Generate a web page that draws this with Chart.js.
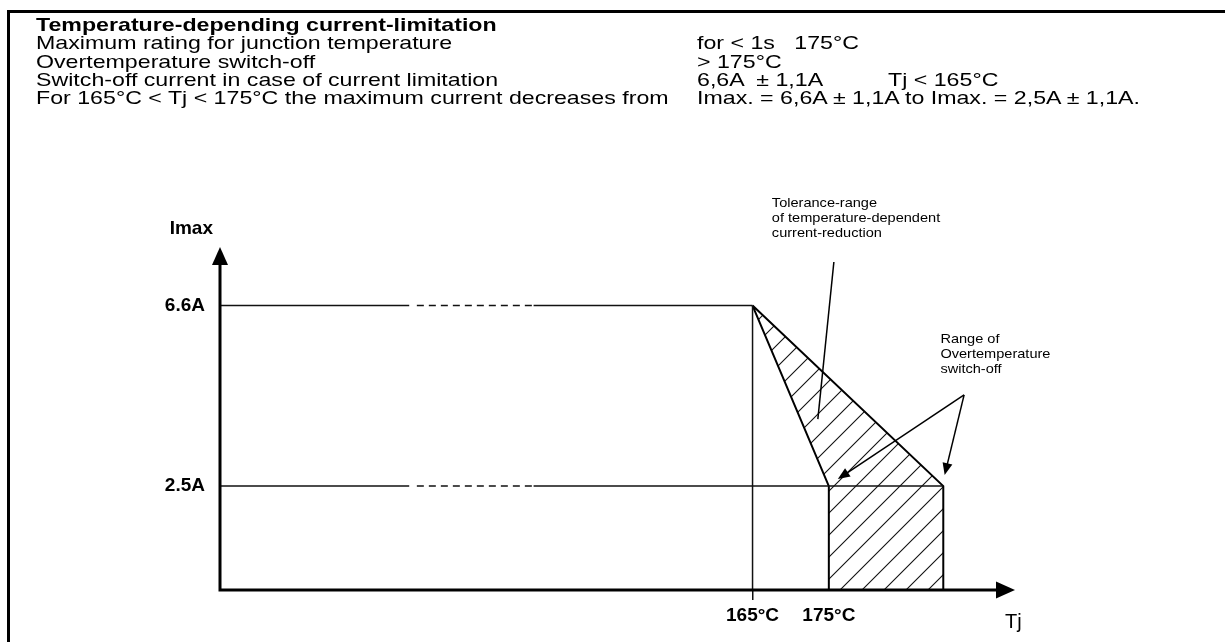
<!DOCTYPE html>
<html>
<head>
<meta charset="utf-8">
<script src="https://cdn.jsdelivr.net/npm/chart.js@4.4.1/dist/chart.umd.min.js"></script>
<style>
  html, body { margin: 0; padding: 0; background: #fff; }
  #page { position: relative; width: 1225px; height: 642px; overflow: hidden; }
  #frame { position: absolute; left: 7px; top: 10px; right: 0; bottom: 0; border-top: 3px solid #000; border-left: 3px solid #000; }
  #chart { position: absolute; left: 0; top: 0; }
  .col { position: absolute; font: 19px "Liberation Sans", Arial, sans-serif; line-height: 18.3px; white-space: pre; color: #000;
         transform: scaleX(1.22); transform-origin: 0 0; }
  .col b { font-weight: bold; }
</style>
</head>
<body>
<div id="page">
  <div id="frame"></div>
  <canvas id="chart" width="1225" height="642"></canvas>
  <div class="col" style="left:36px; top:16px"><b>Temperature-depending current-limitation</b>
Maximum rating for junction temperature
Overtemperature switch-off
Switch-off current in case of current limitation
For 165°C &lt; Tj &lt; 175°C the maximum current decreases from</div>
  <div class="col" style="left:697px; top:34.3px">for &lt; 1s   175°C
&gt; 175°C
6,6A  ± 1,1A
Imax. = 6,6A ± 1,1A to Imax. = 2,5A ± 1,1A.</div>
  <div class="col" style="left:888px; top:70.9px">Tj &lt; 165°C</div>
</div>
<script>
// values
const tempTicks = [165, 175];          // labelled Tj marks, °C
const overTempEnd = 190;                // right edge of the switch-off range, °C
const currentTicks = [2.5, 6.6];       // labelled Imax levels, A
const tempRange = [95.2, 199.4];        // extent of the Tj axis
const currentRange = [0.14, 7.93];      // extent of the Imax axis
const breakTemps = [120, 121, 136.3];   // solid ends, dashes start, dashes end

const xMin = tempRange[0], xMax = tempRange[1];
const yMin = currentRange[0], yMax = currentRange[1];
const [t165, t175] = tempTicks;
const [iLow, iHigh] = currentTicks;

const ink = '#000';
const FONT_TICK = { family: '"Liberation Sans", Arial, sans-serif', size: 19, weight: 'bold' };

// notes in data units (label anchor + pointer ends)
const notes = [
  { lines: ['Tolerance-range', 'of temperature-dependent', 'current-reduction'], at: [167.53, 8.93],
    lead: { from: [175.66, 7.59], to: [[173.56, 4.02]], head: false } },
  { lines: ['Range of', 'Overtemperature', 'switch-off'], at: [189.62, 5.84],
    lead: { from: [192.73, 4.57], to: [[176.18, 2.66], [190.18, 2.75]], head: true } }
];

function hatch() {
  const c = document.createElement('canvas');
  c.width = c.height = 22;
  const g = c.getContext('2d');
  g.strokeStyle = '#111'; g.lineWidth = 1.1;
  g.beginPath();
  g.moveTo(0, 22); g.lineTo(22, 0);
  g.moveTo(-3, 3); g.lineTo(3, -3);
  g.moveTo(19, 25); g.lineTo(25, 19);
  g.stroke();
  return g.createPattern(c, 'repeat');
}

function levelLine(level, end) {
  return {
    data: [{x: xMin, y: level}, {x: breakTemps[0], y: level}, {x: breakTemps[1], y: level},
           {x: breakTemps[2], y: level}, {x: end, y: level}],
    borderColor: '#111', borderWidth: 1.5, pointRadius: 0, showLine: true, fill: false,
    segment: {
      borderColor: c => c.p0DataIndex === 1 ? 'rgba(0,0,0,0)' : '#111',
      borderDash: c => c.p0DataIndex === 2 ? [7, 5] : []
    },
    order: 1
  };
}

const datasets = [
  { // tolerance triangle + switch-off block
    data: [{x: t165, y: iHigh}, {x: t175, y: iLow}, {x: t175, y: yMin}, {x: overTempEnd, y: yMin},
           {x: overTempEnd, y: iLow}, {x: t165, y: iHigh}],
    fill: 'shape', backgroundColor: hatch(), borderColor: ink, borderWidth: 2,
    pointRadius: 0, showLine: true, order: 2
  },
  levelLine(iHigh, t165),
  levelLine(iLow, overTempEnd),
  { data: [{x: t165, y: iHigh}, {x: t165, y: yMin}], borderColor: '#111', borderWidth: 1.5,
    pointRadius: 0, showLine: true, order: 1 }
];

function arrowHead(ctx, tx, ty, ang, len, wid) {
  ctx.save();
  ctx.translate(tx, ty); ctx.rotate(ang);
  ctx.beginPath(); ctx.moveTo(0, 0); ctx.lineTo(-len, -wid / 2); ctx.lineTo(-len, wid / 2); ctx.closePath();
  ctx.fill();
  ctx.restore();
}

function wideText(ctx, txt, x, y, sx) {
  ctx.save(); ctx.translate(x, y); ctx.scale(sx, 1); ctx.fillText(txt, 0, 0); ctx.restore();
}

const decor = {
  id: 'decor',
  afterDatasetsDraw(chart) {
    const {ctx, chartArea: a, scales: {x, y}} = chart;
    ctx.save();
    ctx.strokeStyle = ink; ctx.fillStyle = ink;
    // axes with arrows
    ctx.lineWidth = 3;
    ctx.beginPath();
    ctx.moveTo(a.left, a.bottom); ctx.lineTo(a.right - 10, a.bottom);
    ctx.moveTo(a.left, a.bottom + 1.5); ctx.lineTo(a.left, a.top + 10);
    ctx.stroke();
    arrowHead(ctx, a.right, a.bottom, 0, 19, 17);
    arrowHead(ctx, a.left, a.top, -Math.PI / 2, 18, 16);

    // axis names
    ctx.font = 'bold 19px "Liberation Sans", Arial, sans-serif';
    ctx.textAlign = 'right'; ctx.textBaseline = 'middle';
    ctx.fillText('Imax', a.left - 7, a.top - 18);
    ctx.font = '20px "Liberation Sans", Arial, sans-serif';
    ctx.textAlign = 'left';
    wideText(ctx, 'Tj', a.right - 10, a.bottom + 32, 1.0);

    // notes
    ctx.font = '13px "Liberation Sans", Arial, sans-serif';
    ctx.textBaseline = 'middle';
    ctx.lineWidth = 1.5;
    for (const n of notes) {
      const px = x.getPixelForValue(n.at[0]), py = y.getPixelForValue(n.at[1]);
      n.lines.forEach((t, i) => wideText(ctx, t, px, py + i * 15, 1.12));
      const fx = x.getPixelForValue(n.lead.from[0]), fy = y.getPixelForValue(n.lead.from[1]);
      for (const p of n.lead.to) {
        const tx = x.getPixelForValue(p[0]), ty = y.getPixelForValue(p[1]);
        const ang = Math.atan2(ty - fy, tx - fx);
        const back = n.lead.head ? 9 : 0;
        ctx.beginPath(); ctx.moveTo(fx, fy);
        ctx.lineTo(tx - back * Math.cos(ang), ty - back * Math.sin(ang)); ctx.stroke();
        if (n.lead.head) arrowHead(ctx, tx, ty, ang, 12, 10);
      }
    }
    ctx.restore();
  }
};

new Chart(document.getElementById('chart'), {
  type: 'scatter',
  data: { datasets },
  options: {
    responsive: false,
    animation: false,
    layout: { padding: { left: 160, right: 210, top: 247, bottom: 12 } },
    plugins: { legend: { display: false }, tooltip: { enabled: false } },
    elements: { line: { tension: 0 } },
    scales: {
      x: {
        type: 'linear', min: xMin, max: xMax,
        afterBuildTicks: s => { s.ticks = tempTicks.map(v => ({value: v})); },
        afterFit: s => { s.height = 40; },
        grid: { display: true, drawOnChartArea: false, drawTicks: true, tickLength: 10, lineWidth: 1.5,
                color: c => (c.tick && c.tick.value === t165) ? '#111' : 'rgba(0,0,0,0)' },
        border: { display: false },
        ticks: { color: ink, font: FONT_TICK, padding: 4, maxRotation: 0, autoSkip: false,
                 callback: v => v + '°C' }
      },
      y: {
        type: 'linear', min: yMin, max: yMax,
        afterBuildTicks: s => { s.ticks = currentTicks.map(v => ({value: v})); },
        afterFit: s => { s.width = 60; },
        grid: { display: false },
        border: { display: false },
        ticks: { color: ink, font: FONT_TICK, padding: 7, autoSkip: false,
                 callback: v => v.toFixed(1) + 'A' }
      }
    }
  },
  plugins: [decor]
});
</script>
</body>
</html>
